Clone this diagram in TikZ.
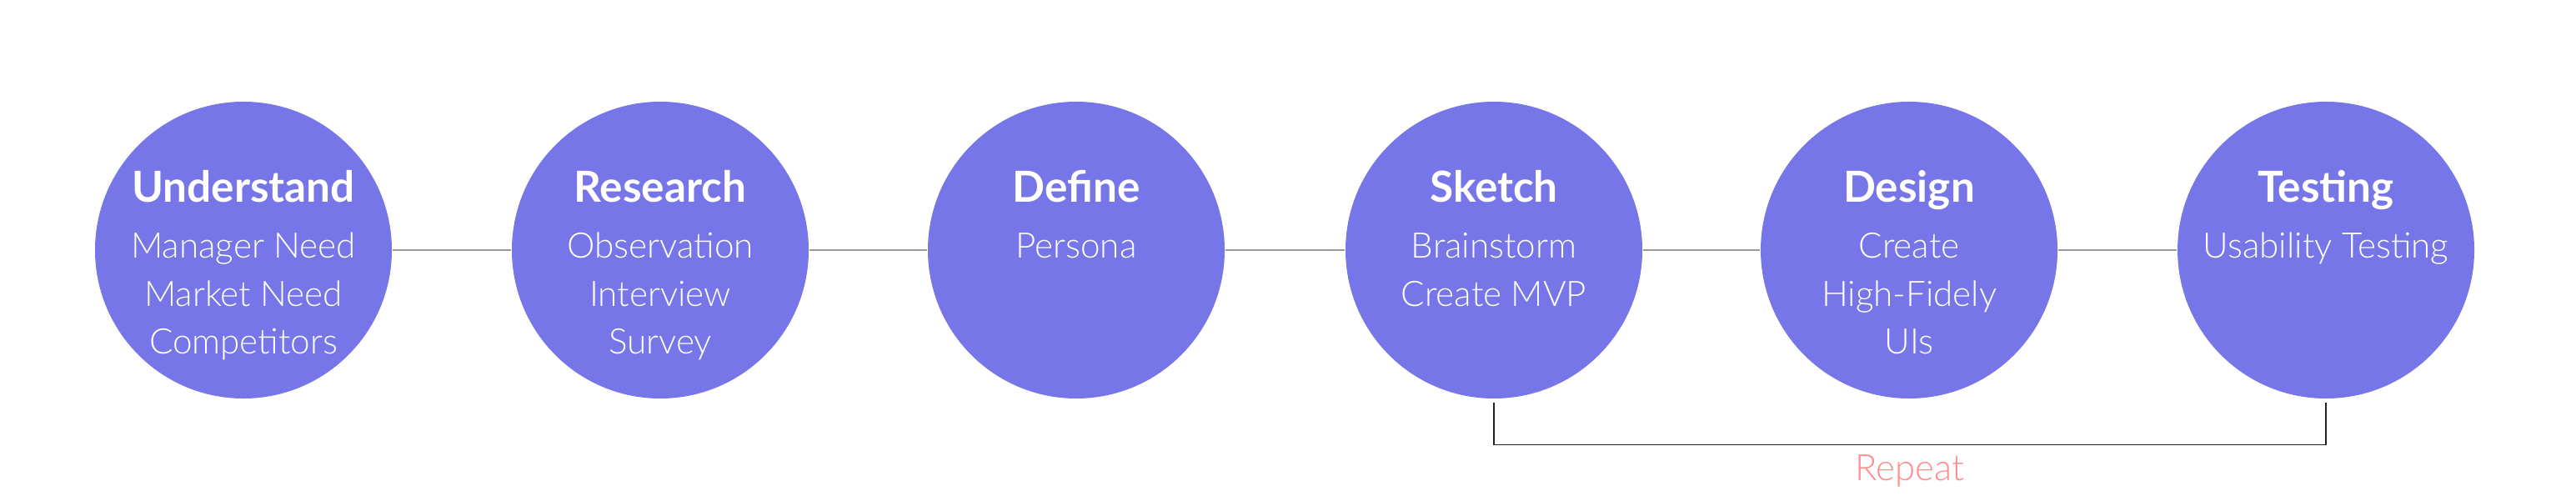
\documentclass[tikz,border=0pt]{standalone}
\usepackage{fontspec}
\setmainfont{Lato}
\newfontfamily\litefont{Lato Light}
\usetikzlibrary{positioning,calc}
\definecolor{stepblue}{HTML}{7776E8}
\definecolor{linegray}{HTML}{9B9B9B}
\definecolor{bracketgray}{HTML}{222222}
\definecolor{repeatpink}{HTML}{FF8B8E}
\newcommand{\steplines}[1]{\begin{tabular}[t]{@{}c@{}}#1\end{tabular}}
\tikzset{
  stage/.style={circle, fill=stepblue, minimum size=3.56cm, inner sep=0pt},
  stagetitle/.style={anchor=base, text=white, inner sep=0pt,
    font=\fontsize{14.6}{17}\selectfont\bfseries},
  stagetext/.style={anchor=base, text=white, inner sep=0pt,
    font=\litefont\fontsize{12}{16.5}\selectfont},
  link/.style={linegray, line width=0.02cm},
}

\begin{document}
\begin{tikzpicture}
    \useasboundingbox (0,0) rectangle (30.9,-6);
    % the six stages
    \node[stage] (und) at ( 2.92,-3) {};
    \node[stage] (res) at ( 7.92,-3) {};
    \node[stage] (def) at (12.91,-3) {};
    \node[stage] (ske) at (17.92,-3) {};
    \node[stage] (des) at (22.90,-3) {};
    \node[stage] (tes) at (27.90,-3) {};
    \node[stagetitle] (undt) at ([yshift=0.58cm]und.center) {Understand};
    \node[stagetitle] (rest) at ([yshift=0.58cm]res.center) {Research};
    \node[stagetitle] (deft) at ([yshift=0.58cm]def.center) {Define};
    \node[stagetitle] (sket) at ([yshift=0.58cm]ske.center) {Sketch};
    \node[stagetitle] (dest) at ([yshift=0.58cm]des.center) {Design};
    \node[stagetitle] (test) at ([yshift=0.58cm]tes.center) {Testing};
    \node[stagetext] (undl) at ([yshift=-0.09cm]und.center) {\steplines{Manager Need\\Market Need\\Competitors}};
    \node[stagetext] (resl) at ([yshift=-0.09cm]res.center) {\steplines{Observation\\Interview\\Survey}};
    \node[stagetext] (defl) at ([yshift=-0.09cm]def.center) {\steplines{Persona}};
    \node[stagetext] (skel) at ([yshift=-0.09cm]ske.center) {\steplines{Brainstorm\\Create MVP}};
    \node[stagetext] (desl) at ([yshift=-0.09cm]des.center) {\steplines{Create\\High-Fidely\\UIs}};
    \node[stagetext] (tesl) at ([yshift=-0.09cm]tes.center) {\steplines{Usability Testing}};
    \draw[link] (und) -- (res);
    \draw[link] (res) -- (def);
    \draw[link] (def) -- (ske);
    \draw[link] (ske) -- (des);
    \draw[link] (des) -- (tes);
    % repeat bracket
    \coordinate (repl) at ([yshift=-0.04cm]ske.south);
    \coordinate (repr) at ([yshift=-0.04cm]tes.south);
    \draw[bracketgray, line width=0.015cm] (repl) -- ++(0,-0.51) -| (repr);
    \node[anchor=base, inner sep=0pt, text=repeatpink, font=\litefont\fontsize{12.4}{14}\selectfont]
      (rep) at ([yshift=-2.76cm]$(ske.center)!0.5!(tes.center)$) {Repeat};
\end{tikzpicture}
\end{document}
